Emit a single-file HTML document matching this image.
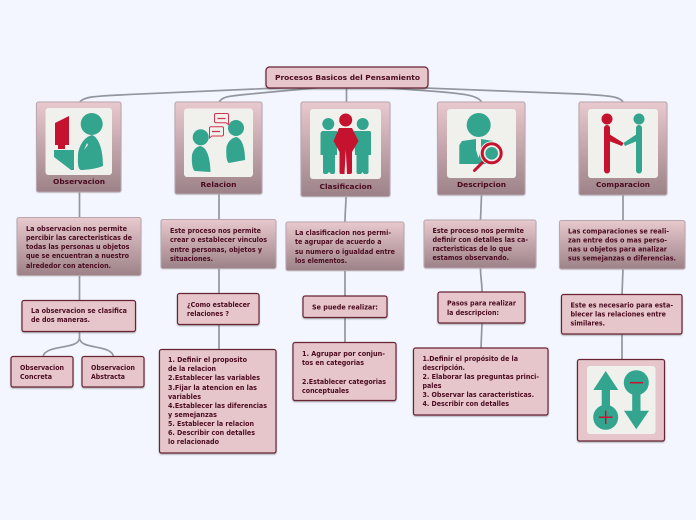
<!DOCTYPE html>
<html><head><meta charset="utf-8"><style>
html,body{margin:0;padding:0;background:#f3f6ff;width:696px;height:520px;overflow:hidden}
svg{display:block}
text{font-family:"DejaVu Sans","Liberation Sans",sans-serif;font-weight:bold;font-size:7px;fill:#4a0a20}
.s{fill:#e6c6ca;stroke:#6a2436;stroke-width:1.2;filter:url(#sh)}
.g{fill:url(#gr);stroke:#b9a6ae;stroke-width:1;filter:url(#sh2)}
.c{fill:none;stroke:#94959f;stroke-width:1.700}
.ib{fill:#f0f1ec}
.t{fill:#33a58f}.r{fill:#c5122f}
</style></head><body>
<svg width="696" height="520" viewBox="0 0 696 520" xmlns="http://www.w3.org/2000/svg">
<defs>
<linearGradient id="gr" x1="0" y1="0" x2="0" y2="1"><stop offset="0" stop-color="#e8c9cd"/><stop offset="1" stop-color="#9c8288"/></linearGradient>
<filter id="sh" x="-10%" y="-10%" width="120%" height="125%"><feDropShadow dx="0" dy="1" stdDeviation="0.7" flood-color="#555" flood-opacity="0.5"/></filter>
<filter id="sh2" x="-10%" y="-10%" width="120%" height="125%"><feDropShadow dx="0" dy="0.5" stdDeviation="0.6" flood-color="#888" flood-opacity="0.35"/></filter>
</defs>
<rect width="696" height="520" fill="#f3f6ff"/>

<!-- connectors -->
<path class="c" d="M347 85 L133 94.300 C100 96 84 96 80 102"/>
<path class="c" d="M347 85 L245 94.500 C232 96 222 96 219.300 102"/>
<path class="c" d="M346.500 88 V102"/>
<path class="c" d="M347 85 L430 91 C462 93.500 478 95 481.500 102"/>
<path class="c" d="M347 85 L580 94 C605 95.500 620 96 623 102"/>
<path class="c" d="M79.500 192 V217.500 M79.500 275.500 V300.500 M79.500 331.500 V340"/>
<path class="c" d="M79.500 338 C79 350 46 344 43 356.500 M79.500 338 C80 350 111 344 113.500 356.500"/>
<path class="c" d="M219 194 V219.500 M219 268.500 V293.500 M219 324.500 V349.500"/>
<path class="c" d="M346 196 C346 205 345 212 345 222 M345 270 V296 M345 317 V342.500"/>
<path class="c" d="M481.500 195 L480.500 220 M480.500 268 C480.500 278 482 282 482 292 M482 323 L481 348"/>
<path class="c" d="M623 195 V220.500 M623 269 L622 294.500 M622 334 V359.500"/>

<!-- root -->
<rect class="s" x="266" y="67" width="162" height="21" rx="3.500"/>
<text x="275" y="80" textLength="145" lengthAdjust="spacingAndGlyphs">Procesos Basicos del Pensamiento</text>

<!-- cards -->
<rect class="g" x="36.500" y="102" width="84.500" height="90" rx="2"/>
<rect class="ib" x="45.500" y="108" width="66.500" height="67" rx="3"/>
<text x="53" y="184" textLength="52" lengthAdjust="spacingAndGlyphs">Observacion</text>
<circle class="t" cx="91.700" cy="124" r="11"/>
<path class="t" d="M92 135 C98 137 103 148 103 166 C96 169 85 170 81 170 C77 169 78 160 78 154 C79 146 84 137 92 135Z"/>
<path d="M87 143 L84 150 L88 145Z" fill="#f0f1ec"/>
<path class="r" d="M55 123 L69 116 V145 H65 V149 H58 V145 H55Z"/>
<path class="t" d="M54 150 H74 V170 H71 L54 157Z"/>

<rect class="g" x="175" y="102" width="87" height="92" rx="2"/>
<rect class="ib" x="184" y="108.500" width="69" height="68.500" rx="3"/>
<text x="200.500" y="187" textLength="36" lengthAdjust="spacingAndGlyphs">Relacion</text>
<circle class="t" cx="200.700" cy="137.300" r="8"/>
<path class="t" d="M200 146 C206 147 210 155 210.500 172 L195 171 C192 170 191.500 160 192 155 C193 150 196 147 200 146Z"/>
<circle class="t" cx="236" cy="128" r="8"/>
<path class="t" d="M236 137 C242 138 245 148 245 160 L229 163 C226 162 226 152 226.500 147 C228 141 232 138 236 137Z"/>
<g fill="#f0f1ec" stroke="#d2334f" stroke-width="1">
<path d="M216 113.500 H227 Q228.500 113.500 228.500 115 V124.500 L226 122.800 H216 Q214.500 122.800 214.500 121.300 V115 Q214.500 113.500 216 113.500Z"/>
<path d="M211 126.800 H222 Q223.500 126.800 223.500 128.300 V134.500 Q223.500 136 222 136 H212 L209.500 138 V128.300 Q209.500 126.800 211 126.800Z"/>
</g>
<path d="M217.500 118.500 H225.500 M212 131.500 H220" stroke="#d2334f" stroke-width="1.200"/>

<rect class="g" x="301" y="102" width="89" height="94.500" rx="2"/>
<rect class="ib" x="310" y="109" width="71" height="70" rx="3"/>
<text x="319.500" y="189" textLength="52.500" lengthAdjust="spacingAndGlyphs">Clasificacion</text>
<circle class="t" cx="328.300" cy="124" r="6"/><circle class="t" cx="362.700" cy="124" r="6"/>
<path class="t" d="M322 131 H337 V155 H335 V172 Q335 174 333 174 H331 L329 172 L327 174 H325 Q323 174 323 172 V155 H320.500 V133Z"/>
<path class="t" d="M354 131 H369.500 Q371 131 371 133 V155 H368.500 V172 Q368.500 174 366.500 174 H364 L362.500 172 L361 174 H358 Q356.500 174 356.500 172 V155 H355Z"/>
<circle class="r" cx="345.700" cy="120" r="6.500"/>
<path d="M339 128 H352 L358.500 141 L352 152 V172 Q352 174 350 174 H347 L345.800 150 L344.500 174 H341 Q339.500 174 339.500 172 V152 L333.500 141Z" class="r"/>

<rect class="g" x="437.500" y="102" width="87.500" height="93" rx="2"/>
<rect class="ib" x="447" y="109" width="69" height="69" rx="3"/>
<text x="457" y="187" textLength="49" lengthAdjust="spacingAndGlyphs">Descripcion</text>
<circle class="t" cx="478.700" cy="125" r="12"/>
<path class="t" d="M462 141 L476 139 V150 L478.500 158 L481 150 V139 L493 141 V164 H459.300 V145Z"/>
<circle cx="491.700" cy="153.300" r="12" fill="#f0f1ec"/>
<circle cx="491.700" cy="153.300" r="9.500" fill="#f0f1ec" stroke="#c5122f" stroke-width="3"/>
<circle cx="491.700" cy="153.300" r="6.300" fill="#33a58f"/>
<path d="M482.300 162.700 L474.500 170.500" stroke="#c5122f" stroke-width="3" stroke-linecap="round"/>

<rect class="g" x="579" y="102" width="88" height="93" rx="2"/>
<rect class="ib" x="588" y="109" width="70" height="69" rx="3"/>
<text x="596" y="187" textLength="54" lengthAdjust="spacingAndGlyphs">Comparacion</text>
<circle class="r" cx="607" cy="119" r="5.500"/>
<circle class="t" cx="639" cy="119" r="5.500"/>
<path d="M607 128 V170.500" stroke="#c5122f" stroke-width="6" stroke-linecap="round"/>
<path class="r" d="M609 134 L623.500 143 L622 146 L609 141Z"/>
<path d="M639 128 V170.500" stroke="#33a58f" stroke-width="6" stroke-linecap="round"/>
<path class="t" d="M637 134 L623.500 143 L625 146 L637 141Z"/>

<!-- gradient text boxes -->
<rect class="g" x="17" y="217.500" width="124" height="58" rx="2"/>
<text x="26" y="231" textLength="101" lengthAdjust="spacingAndGlyphs">La observacion nos permite</text>
<text x="26" y="240" textLength="106" lengthAdjust="spacingAndGlyphs">percibir las carecteristicas de</text>
<text x="26" y="249" textLength="103.500" lengthAdjust="spacingAndGlyphs">todas las personas u objetos</text>
<text x="26" y="258" textLength="103" lengthAdjust="spacingAndGlyphs">que se encuentran a nuestro</text>
<text x="26" y="268" textLength="85" lengthAdjust="spacingAndGlyphs">alrededor con atencion.</text>

<rect class="g" x="161" y="219.500" width="115" height="49" rx="2"/>
<text x="170" y="233" textLength="91" lengthAdjust="spacingAndGlyphs">Este proceso nos permite</text>
<text x="170" y="242" textLength="97" lengthAdjust="spacingAndGlyphs">crear o establecer vinculos</text>
<text x="170" y="252" textLength="92" lengthAdjust="spacingAndGlyphs">entre personas, objetos y</text>
<text x="170" y="261" textLength="43" lengthAdjust="spacingAndGlyphs">situaciones.</text>

<rect class="g" x="286" y="222" width="118" height="48.500" rx="2"/>
<text x="295" y="235" textLength="96" lengthAdjust="spacingAndGlyphs">La clasificacion nos permi-</text>
<text x="295" y="244" textLength="86.500" lengthAdjust="spacingAndGlyphs">te agrupar de acuerdo a</text>
<text x="295" y="254" textLength="100" lengthAdjust="spacingAndGlyphs">su numero o igualdad entre</text>
<text x="295" y="263" textLength="52" lengthAdjust="spacingAndGlyphs">los elementos.</text>

<rect class="g" x="424" y="220" width="112" height="48" rx="2"/>
<text x="432.500" y="233" textLength="91.500" lengthAdjust="spacingAndGlyphs">Este proceso nos permite</text>
<text x="432.500" y="242" textLength="95.500" lengthAdjust="spacingAndGlyphs">definir con detalles las ca-</text>
<text x="432.500" y="251" textLength="79.500" lengthAdjust="spacingAndGlyphs">racteristicas de lo que</text>
<text x="432.500" y="260" textLength="76.500" lengthAdjust="spacingAndGlyphs">estamos observando.</text>

<rect class="g" x="559.500" y="220.500" width="125.500" height="48.500" rx="2"/>
<text x="568" y="233.500" textLength="101" lengthAdjust="spacingAndGlyphs">Las comparaciones se reali-</text>
<text x="568" y="242.500" textLength="99" lengthAdjust="spacingAndGlyphs">zan entre dos o mas perso-</text>
<text x="568" y="251.500" textLength="99" lengthAdjust="spacingAndGlyphs">nas u objetos para analizar</text>
<text x="568" y="260.500" textLength="108" lengthAdjust="spacingAndGlyphs">sus semejanzas o diferencias.</text>

<!-- solid boxes -->
<rect class="s" x="22" y="300.500" width="113.500" height="31" rx="2"/>
<text x="31" y="313" textLength="96" lengthAdjust="spacingAndGlyphs">La observacion se clasifica</text>
<text x="31" y="322" textLength="59" lengthAdjust="spacingAndGlyphs">de dos maneras.</text>

<rect class="s" x="11" y="356.500" width="62" height="30.500" rx="2"/>
<text x="20" y="370" textLength="44" lengthAdjust="spacingAndGlyphs">Observacion</text>
<text x="20" y="379" textLength="32" lengthAdjust="spacingAndGlyphs">Concreta</text>
<rect class="s" x="82" y="356.500" width="62" height="30.500" rx="2"/>
<text x="91" y="370" textLength="44" lengthAdjust="spacingAndGlyphs">Observacion</text>
<text x="91" y="379" textLength="34" lengthAdjust="spacingAndGlyphs">Abstracta</text>

<rect class="s" x="177.500" y="293.500" width="81.500" height="31" rx="2"/>
<text x="187" y="307" textLength="63" lengthAdjust="spacingAndGlyphs">¿Como establecer</text>
<text x="187" y="316" textLength="42" lengthAdjust="spacingAndGlyphs">relaciones ?</text>

<rect class="s" x="159.500" y="349.500" width="116.500" height="103.500" rx="2"/>
<text x="168" y="362" textLength="79" lengthAdjust="spacingAndGlyphs">1. Definir el proposito</text>
<text x="168" y="371" textLength="48" lengthAdjust="spacingAndGlyphs">de la relacion</text>
<text x="168" y="380" textLength="92" lengthAdjust="spacingAndGlyphs">2.Establecer las variables</text>
<text x="168" y="390" textLength="89" lengthAdjust="spacingAndGlyphs">3.Fijar la atencion en las</text>
<text x="168" y="399" textLength="33" lengthAdjust="spacingAndGlyphs">variables</text>
<text x="168" y="408" textLength="99" lengthAdjust="spacingAndGlyphs">4.Establecer las diferencias</text>
<text x="168" y="417" textLength="49" lengthAdjust="spacingAndGlyphs">y semejanzas</text>
<text x="168" y="426" textLength="86" lengthAdjust="spacingAndGlyphs">5. Establecer la relacion</text>
<text x="168" y="435" textLength="87" lengthAdjust="spacingAndGlyphs">6. Describir con detalles</text>
<text x="168" y="444" textLength="51" lengthAdjust="spacingAndGlyphs">lo relacionado</text>

<rect class="s" x="303" y="296" width="84" height="21.500" rx="2"/>
<text x="312" y="309.500" textLength="66" lengthAdjust="spacingAndGlyphs">Se puede realizar:</text>

<rect class="s" x="293" y="342.500" width="103" height="58" rx="2"/>
<text x="302" y="356" textLength="83" lengthAdjust="spacingAndGlyphs">1. Agrupar por conjun-</text>
<text x="302" y="365" textLength="62" lengthAdjust="spacingAndGlyphs">tos en categorias</text>
<text x="302" y="384" textLength="84" lengthAdjust="spacingAndGlyphs">2.Establecer categorias</text>
<text x="302" y="393" textLength="47" lengthAdjust="spacingAndGlyphs">conceptuales</text>

<rect class="s" x="438" y="292" width="87" height="31" rx="2"/>
<text x="447" y="305.700" textLength="69" lengthAdjust="spacingAndGlyphs">Pasos para realizar</text>
<text x="447" y="315" textLength="52" lengthAdjust="spacingAndGlyphs">la descripcion:</text>

<rect class="s" x="413.500" y="348" width="134.500" height="67" rx="2"/>
<text x="422.500" y="361" textLength="95.500" lengthAdjust="spacingAndGlyphs">1.Definir el propósito de la</text>
<text x="422.500" y="370" textLength="42.500" lengthAdjust="spacingAndGlyphs">descripción.</text>
<text x="422.500" y="379" textLength="116.500" lengthAdjust="spacingAndGlyphs">2. Elaborar las preguntas princi-</text>
<text x="422.500" y="388" textLength="19" lengthAdjust="spacingAndGlyphs">pales</text>
<text x="422.500" y="397" textLength="111.500" lengthAdjust="spacingAndGlyphs">3. Observar las caracteristicas.</text>
<text x="422.500" y="406" textLength="86.500" lengthAdjust="spacingAndGlyphs">4. Describir con detalles</text>

<rect class="s" x="561.500" y="294.500" width="120.500" height="39.500" rx="2"/>
<text x="570.500" y="307.700" textLength="102.500" lengthAdjust="spacingAndGlyphs">Este es necesario para esta-</text>
<text x="570.500" y="316.700" textLength="95.500" lengthAdjust="spacingAndGlyphs">blecer las relaciones entre</text>
<text x="570.500" y="325.700" textLength="34.500" lengthAdjust="spacingAndGlyphs">similares.</text>

<!-- final image -->
<rect class="s" x="577.500" y="359.500" width="87" height="81.500" rx="2"/>
<rect class="ib" x="587" y="366" width="68.500" height="68" rx="3"/>
<path class="t" d="M605.700 371 L618.300 390 H610 V406 H601.700 V390 H593.300Z"/>
<circle class="t" cx="605.700" cy="417.300" r="12.500"/>
<path d="M605.700 410.500 V424 M599 417.300 H612.500" stroke="#c5122f" stroke-width="1.500"/>
<circle class="t" cx="636.300" cy="382.700" r="12.500"/>
<path d="M630 382.700 H643" stroke="#c5122f" stroke-width="1.500"/>
<path class="t" d="M632.200 392 H640.500 V410.700 H649 L636.300 429.300 L624 410.700 H632.200Z"/>
</svg>
</body></html>
